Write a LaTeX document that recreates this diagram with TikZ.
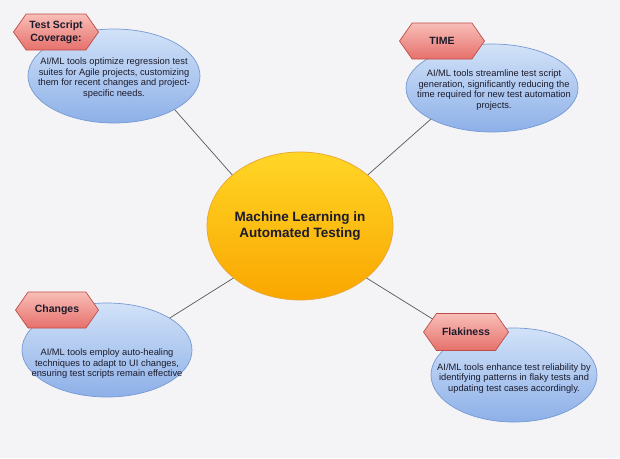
\documentclass[tikz,border=0pt]{standalone}
\usepackage{fontspec}
\setmainfont{Liberation Sans}
\usetikzlibrary{arrows.meta, shapes.geometric, shapes.symbols}

\definecolor{bg}{HTML}{F4F3F5}
\definecolor{bubbleTop}{HTML}{D2E2F8}
\definecolor{bubbleBot}{HTML}{8DB0E8}
\definecolor{bubbleLine}{HTML}{7699D4}
\definecolor{hubTop}{HTML}{FFD626}
\definecolor{hubBot}{HTML}{FAA600}
\definecolor{hubLine}{HTML}{E9A52E}
\definecolor{tagTop}{HTML}{F9BEB8}
\definecolor{tagBot}{HTML}{E6706B}
\definecolor{tagLine}{HTML}{BE4E4A}
\definecolor{ink}{HTML}{1B1B2B}

\begin{document}
\begin{tikzpicture}[>=Stealth, x=1pt, y=-1pt,
	bubble/.style={ellipse, draw=bubbleLine, line width=0.7pt, top color=bubbleTop, bottom color=bubbleBot, inner sep=0pt},
	hub/.style={ellipse, draw=hubLine, line width=0.7pt, top color=hubTop, bottom color=hubBot, minimum width=186pt, minimum height=148pt, inner sep=0pt, align=center, font=\bfseries\fontsize{13.5}{16}\selectfont, text=ink},
	tag/.style={signal, signal to=west and east, signal pointer angle=110, draw=tagLine, line width=0.7pt, top color=tagTop, bottom color=tagBot, minimum width=85pt, minimum height=36pt, inner sep=0pt, align=center, font=\bfseries\fontsize{10.5}{12.7}\selectfont, text=ink},
	body/.style={align=center, font=\fontsize{9.3}{10.5}\selectfont, text=ink, inner sep=0pt},
	link/.style={draw=black!65, line width=0.7pt}]
		% 背景与画布大小
		\fill[bg] (0,0) rectangle (620,458);
		\useasboundingbox (0,0) rectangle (620,458);
		
		% 中心椭圆
		\node[hub] (main) at (300,226) {Machine Learning in\\Automated Testing};
		
		% 四个蓝色椭圆及其说明文字
		\node[bubble, minimum width=172pt, minimum height=94pt] (covE) at (114,76) {};
		\node[body] (covT) at ([yshift=-2pt]covE.center) {AI/ML tools optimize regression test\\suites for Agile projects, customizing\\them for recent changes and project-\\specific needs.};
		
		\node[bubble, minimum width=172pt, minimum height=88pt] (timeE) at (492,88) {};
		\node[body] (timeT) at ([xshift=2pt, yshift=-2pt]timeE.center) {AI/ML tools streamline test script\\generation, significantly reducing the\\time required for new test automation\\projects.};
		
		\node[bubble, minimum width=170pt, minimum height=94pt] (chgE) at (107,350) {};
		\node[body] (chgT) at ([yshift=-14pt]chgE.center) {AI/ML tools employ auto-healing\\techniques to adapt to UI changes,\\ensuring test scripts remain effective};
		
		\node[bubble, minimum width=166pt, minimum height=94pt] (flkE) at (514,375) {};
		\node[body] (flkT) at ([yshift=-3.5pt]flkE.center) {AI/ML tools enhance test reliability by\\identifying patterns in flaky tests and\\updating test cases accordingly.};
		
		% 连线(中心到各椭圆)
		\draw[link] (main.143) -- (covE.-29);
		\draw[link] (main.37) -- (timeE.207);
		\draw[link] (main.218) -- (chgE.27);
		\draw[link] (main.-38) -- (flkE.144);
		
		% 六边形标题(压在椭圆和连线之上)
		\node[tag] (covH) at (56,32) {Test Script\\Coverage:};
		\node[tag] (timeH) at (442,41) {TIME};
		\node[tag, minimum width=83pt] (chgH) at (57,310) {Changes};
		\node[tag, minimum height=37pt] (flkH) at (466,332) {Flakiness};
	\end{tikzpicture}
\end{document}
